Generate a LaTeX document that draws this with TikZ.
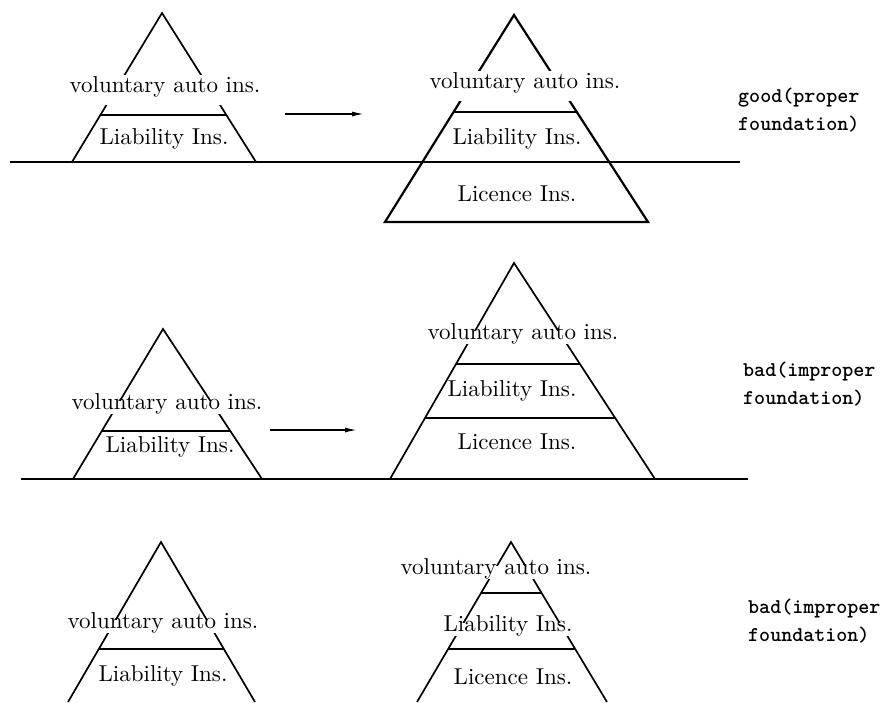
\documentclass[tikz,border=0pt]{standalone}
\usepackage{fontspec}
% keep the 10pt design of Latin Modern at every size
\setmainfont{lmroman10-regular.otf}
\setmonofont{lmmono10-regular.otf}[BoldFont=lmmonolt10-bold.otf]
\usetikzlibrary{calc,arrows.meta}
\begin{document}
\begin{tikzpicture}[x=1pt,y=-1pt,
  side/.style={line width=1.7pt, line join=miter},
  heavy/.style={line width=2.2pt, line join=miter},
  ground/.style={line width=1.3pt},
  shift arrow/.style={line width=1.4pt, -{Latex[length=12pt,width=5pt]}},
  tier/.style={font=\fontsize{23}{26}\selectfont, fill=white, inner sep=2pt,
    text height=0.7em, text depth=0.2em},
  tall tier/.style={tier, minimum height=30pt},
  verdict/.style={font=\fontsize{21}{28}\selectfont\ttfamily\bfseries, align=left,
    anchor=north west, inner sep=0pt}]
\useasboundingbox (0,0) rectangle (886,702);

% ---------- row 1: good (proper foundation) ----------
\draw[ground] (10,162) coordinate (g1s) -- (740,162) coordinate (g1e);

% small pyramid
\coordinate (p1a) at (162,13);
\coordinate (p1l) at (72,162);
\coordinate (p1r) at (256,162);
\draw[side] (p1l) -- (p1a) -- (p1r) -- cycle;
\draw[side] ($(p1a)!0.6846!(p1l)$) -- ($(p1a)!0.6846!(p1r)$);

% large pyramid
\coordinate (q1a) at (514,15);
\coordinate (q1l) at (385,222);
\coordinate (q1r) at (648,222);
\draw[heavy] (q1l) -- (q1a) -- (q1r) -- cycle;
\draw[heavy] ($(q1a)!0.4686!(q1l)$) -- ($(q1a)!0.4686!(q1r)$);
\draw[heavy] ($(q1a)!0.7101!(q1l)$) -- ($(q1a)!0.7101!(q1r)$);

\coordinate (a1s) at (285,114);
\coordinate (a1e) at (364,114);
\draw[shift arrow] (a1s) -- (a1e);

\node[tall tier] (t1a) at (165,90) {voluntary auto ins.};
\node[tier] (t1b) at (164,142) {Liability Ins.};
\node[tall tier] (u1a) at (525,86) {voluntary auto ins.};
\node[tier] (u1b) at (517,142) {Liability Ins.};
\node[tier] (u1c) at (517,199) {Licence Ins.};
\node[verdict] (v1) at (738,88) {good(proper\\foundation)};

% ---------- row 2: bad (improper foundation) ----------
\draw[ground] (21,479) coordinate (g2s) -- (748,479) coordinate (g2e);

\coordinate (p2a) at (163,329);
\coordinate (p2l) at (73,479);
\coordinate (p2r) at (262,479);
\draw[side] (p2l) -- (p2a) -- (p2r) -- cycle;
\draw[side] ($(p2a)!0.68!(p2l)$) -- ($(p2a)!0.68!(p2r)$);

\coordinate (q2a) at (514,263);
\coordinate (q2l) at (390,479);
\coordinate (q2r) at (655,479);
\draw[side] (q2l) -- (q2a) -- (q2r) -- cycle;
\draw[side] ($(q2a)!0.4676!(q2l)$) -- ($(q2a)!0.4676!(q2r)$);
\draw[side] ($(q2a)!0.7176!(q2l)$) -- ($(q2a)!0.7176!(q2r)$);

\coordinate (a2s) at (270,430);
\coordinate (a2e) at (357,430);
\draw[shift arrow] (a2s) -- (a2e);

\node[tier] (t2a) at (167,407) {voluntary auto ins.};
\node[tier] (t2b) at (170,450) {Liability Ins.};
\node[tier] (u2a) at (523,337) {voluntary auto ins.};
\node[tier] (u2b) at (512,394) {Liability Ins.};
\node[tier] (u2c) at (517,447) {Licence Ins.};
\node[verdict] (v2) at (743,362) {bad(improper\\foundation)};

% ---------- row 3: bad (improper foundation) ----------
\coordinate (p3a) at (161,542);
\coordinate (p3l) at (68,702);
\coordinate (p3r) at (255,702);
\draw[side] (p3l) -- (p3a) -- (p3r);
\draw[side] ($(p3a)!0.66875!(p3l)$) -- ($(p3a)!0.66875!(p3r)$);

\coordinate (q3a) at (511,542);
\coordinate (q3l) at (417,702);
\coordinate (q3r) at (607,702);
\draw[side] (q3l) -- (q3a) -- (q3r);
\draw[side] ($(q3a)!0.31875!(q3l)$) -- ($(q3a)!0.31875!(q3r)$);
\draw[side] ($(q3a)!0.66875!(q3l)$) -- ($(q3a)!0.66875!(q3r)$);

\node[tier] (t3a) at (163,626) {voluntary auto ins.};
\node[tier] (t3b) at (163,679) {Liability Ins.};
\node[tier] (u3a) at (496,572) {voluntary auto ins.};
\node[tier] (u3b) at (508,629) {Liability Ins.};
\node[tier] (u3c) at (513,682) {Licence Ins.};
\node[verdict] (v3) at (748,599) {bad(improper\\foundation)};
\end{tikzpicture}
\end{document}
